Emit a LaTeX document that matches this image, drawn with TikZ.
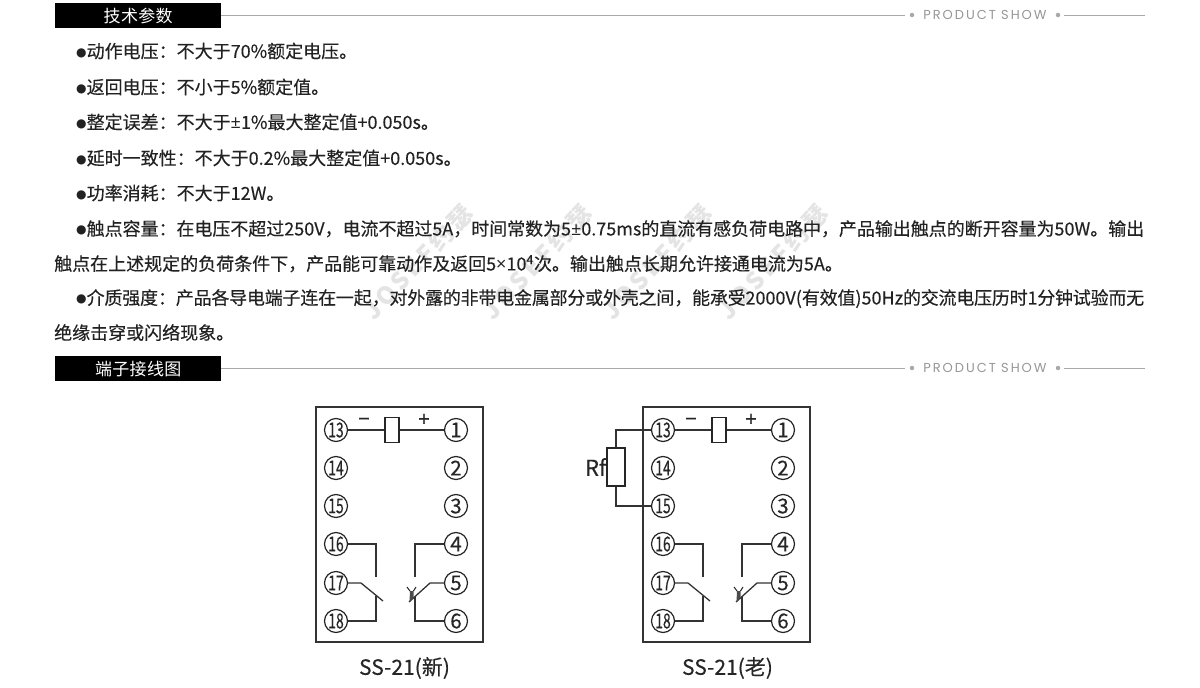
\documentclass[tikz,border=0pt]{standalone}
\usepackage{fontspec}
\usepackage{graphicx}
\setmainfont[FakeBold=0.25]{Noto Sans CJK SC}
\newfontfamily\headfont[LetterSpace=2]{Noto Sans CJK SC}
\newfontfamily\showfont[LetterSpace=15]{Poppins}
\newfontfamily\dotfont{DejaVu Sans}
\newfontfamily\signfont{Open Sans}
\newfontfamily\markfont[LetterSpace=14]{Noto Sans CJK SC}
\XeTeXlinebreaklocale "zh"
\XeTeXlinebreakskip=0pt plus 3pt minus 1pt
\newcommand{\bulletmark}{\raisebox{1.5pt}{\fontsize{12}{12}\dotfont ●}}
\newcommand{\pinsqueeze}[1]{\scalebox{0.68}[1]{#1}}
\newcommand{\pmsign}{{\signfont ±}}
\newcommand{\timessign}{{\signfont ×}}
\definecolor{txtgray}{HTML}{222222}
\definecolor{rulegray}{HTML}{A8A8A8}
\definecolor{markgray}{HTML}{E4E4E4}
\tikzset{
 wire/.style={line width=1.3pt, draw=black!80},
 pinnode/.style={circle, draw=black!85, line width=1.2pt, fill=white, minimum size=23pt, inner sep=0pt, text=black!85, font=\fontsize{20.5}{20.5}\selectfont},
 para/.style={anchor=north west, inner sep=0pt, text width=1090pt, align=justify, text=txtgray, font=\fontsize{18}{35}\selectfont},
 oneline/.style={anchor=west, inner sep=0pt, text=txtgray, font=\fontsize{18}{18}\selectfont},
 headbox/.style={anchor=north west, fill=black, text=white, minimum width=166pt, minimum height=25pt, inner sep=0pt, font=\fontsize{17}{17}\headfont},
 showtext/.style={inner sep=0pt, text=rulegray!90!black, font=\fontsize{13}{13}\showfont},
 showdot/.style={circle, fill=rulegray, inner sep=0pt, minimum size=4.5pt},
 caption/.style={inner sep=0pt, text=black!85, font=\fontsize{21}{21}\selectfont},
 watermark/.style={inner sep=0pt, rotate=47, text=markgray, font=\fontsize{24}{24}\markfont\bfseries},
}
\begin{document}
\begin{tikzpicture}[x=1pt, y=-1pt]
\useasboundingbox (0,0) rectangle (1200,688);
\fill[white] (0,0) rectangle (1200,688);
% watermark
\foreach \n/\x in {1/418,2/537,3/657,4/773} {
 \node[watermark] (mark\n) at (\x,262) {JOSEF约瑟};
}
% section bars
\foreach \h/\y/\t in {a/3/技术参数,b/356/端子接线图} {
 \node[headbox] (head\h) at (55,\y) {\t};
 \node[showtext] (show\h) at (985,\y+12) {PRODUCT SHOW};
 \node[showdot] (dotl\h) at (912,\y+12) {};
 \node[showdot] (dotr\h) at (1058,\y+12) {};
 \coordinate (endl\h) at (905,\y+12);
 \coordinate (endr\h) at (1145,\y+12);
 \draw[rulegray] (head\h.east |- dotl\h) -- (endl\h);
 \draw[rulegray] (1064,\y+12) -- (endr\h);
}
% parameters
\foreach \n/\y/\t in {1/51/动作电压：不大于70\%额定电压。,2/87/返回电压：不小于5\%额定值。,3/122/整定误差：不大于\pmsign 1\%最大整定值+0.050s。,4/158/延时一致性：不大于0.2\%最大整定值+0.050s。,5/193/功率消耗：不大于12W。} {
 \node[oneline] (line\n) at (76,\y) {\bulletmark\t};
}
\node[para] (para6) at (54,220) {\hspace*{22pt}\bulletmark 触点容量：在电压不超过250V，电流不超过5A，时间常数为5\pmsign 0.75ms的直流有感负荷电路中，产品输出触点的断开容量为50W。输出\linebreak 触点在上述规定的负荷条件下，产品能可靠动作及返回5\timessign 10\textsuperscript{4}次。输出触点长期允许接通电流为5A。};
\node[para] (para7) at (54,289) {\hspace*{22pt}\bulletmark 介质强度：产品各导电端子连在一起，对外露的非带电金属部分或外壳之间，能承受2000V(有效值)50Hz的交流电压历时1分钟试验而无\linebreak 绝缘击穿或闪络现象。};
% terminal diagrams
\foreach \s/\dx/\c/\cx in {a/316/新/88.5,b/643/老/84.5} {
 \begin{scope}[shift={(\dx,0)}]
 \draw[line width=1.5pt, black!80] (0,407) rectangle (167,642);
 \foreach \n/\y in {13/430,14/468,15/506,16/544,17/583,18/621} {
  \node[pinnode] (\s\n) at (20,\y) {\pinsqueeze{\n}};
 }
 \foreach \n/\y in {1/430,2/468,3/506,4/544,5/583,6/621} {
  \node[pinnode] (\s\n) at (140,\y) {\n};
 }
 \node[draw=black!85, line width=1.3pt, minimum width=14pt, minimum height=25pt, inner sep=0pt] (\s coil) at (76,430) {};
 \draw[wire] (\s13) -- (\s coil);
 \draw[wire] (\s coil) -- (\s1);
 \node[inner sep=0pt, font=\fontsize{20}{20}\selectfont, text=black!85] (\s minus) at (48,422) {−};
 \node[inner sep=0pt, font=\fontsize{20}{20}\selectfont, text=black!85] (\s plus) at (108,420) {+};
 % contacts
 \coordinate (\s e16) at (60,577);
 \coordinate (\s k17) at (45,583);
 \coordinate (\s e17) at (67,601);
 \coordinate (\s e18) at (60,596);
 \coordinate (\s e4) at (99,577);
 \coordinate (\s k5) at (114,583);
 \coordinate (\s e5) at (93,602);
 \coordinate (\s e6) at (99,597);
 \draw[wire] (\s16) -| (\s e16);
 \draw[wire] (\s17) -- (\s k17) -- (\s e17);
 \draw[wire] (\s18) -| (\s e18);
 \draw[wire] (\s4) -| (\s e4);
 \draw[wire] (\s5) -- (\s k5) -- (\s e5);
 \draw[wire] (\s6) -| (\s e6);
 \draw[line width=1pt, black!85] (91,587) -- (94,591);
 \draw[line width=1pt, black!85] (100,587) -- (97.5,591);
 \fill[black!70] (94,591) -- (97.5,591) -- (97.5,597) -- (93.5,602) -- cycle;
 \node[caption] (\s cap) at (\cx,668) {SS-21(\c)};
 \end{scope}
}
% feedback resistor
\node[draw=black!85, line width=1.3pt, minimum width=18pt, minimum height=38pt, inner sep=0pt] (rf) at (616,467) {};
\draw[wire] (b13) -| (rf);
\draw[wire] (b15) -| (rf);
\node[inner sep=0pt, anchor=east, text=black!85, font=\fontsize{22}{22}\selectfont] (rflabel) at (rf.west) {Rf};
\end{tikzpicture}
\end{document}
